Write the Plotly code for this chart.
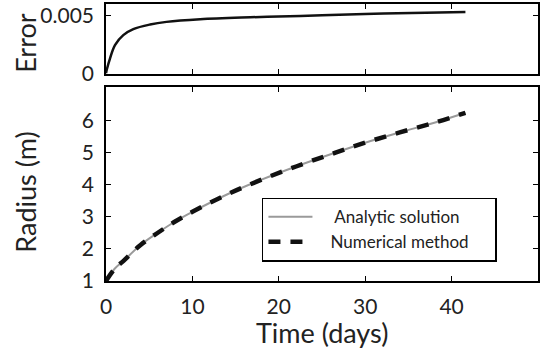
import plotly.graph_objects as go

# ---- data ----
err_t = [0.0, 0.08, 0.46, 1.04, 2.0, 3.16, 5.1, 7.0, 10.9, 16.7, 22.5, 27.0, 32.1, 37.0, 41.6]
err_v = [0.0, 0.0003, 0.0013, 0.00247, 0.00333, 0.00385, 0.00425, 0.00448, 0.00471,
         0.00488, 0.00500, 0.00510, 0.00520, 0.00527, 0.00534]

rad_t = [0, 1, 2, 4, 6, 8, 10, 14, 18, 22, 26, 30, 34, 38, 41.6]
rad_analytic = [1.0, 1.38, 1.62, 2.12, 2.50, 2.85, 3.15, 3.69, 4.15, 4.56, 4.94, 5.30, 5.62, 5.92, 6.23]
rad_numeric = [1.0, 1.38, 1.62, 2.12, 2.50, 2.85, 3.15, 3.69, 4.15, 4.56, 4.94, 5.30, 5.62, 5.92, 6.23]

x_ticks = [0, 10, 20, 30, 40]
err_ticks = [0, 0.005]
err_tick_text = ["0", "0.005"]
rad_ticks = [1, 2, 3, 4, 5, 6]

legend_names = ["Analytic solution", "Numerical method"]

FONT = "Lato"
NB = "\u00a0"

fig = go.Figure()
fig.add_trace(go.Scatter(x=err_t, y=err_v, mode="lines", line=dict(color="#111111", width=2.5, shape="spline"),
                         showlegend=False, xaxis="x", yaxis="y"))
fig.add_trace(go.Scatter(x=rad_t, y=rad_analytic, mode="lines", name=NB * 4 + legend_names[0] + NB * 5,
                         line=dict(color="#9a9a9a", width=2, shape="spline"), xaxis="x2", yaxis="y2"))
fig.add_trace(go.Scatter(x=rad_t, y=rad_numeric, mode="lines", name=NB * 3 + legend_names[1] + NB * 5,
                         line=dict(color="#111111", width=4.5, dash="12px,10px", shape="spline"),
                         xaxis="x2", yaxis="y2"))

axis_common = dict(showline=True, linecolor="black", linewidth=1.5, mirror="ticks", ticks="inside",
                   ticklen=5, tickwidth=1.2, tickcolor="black", showgrid=False, zeroline=False,
                   tickfont=dict(family=FONT, size=21, color="#222222"))

fig.update_layout(
    width=552, height=355,
    margin=dict(l=106, r=14, t=2, b=74),
    paper_bgcolor="white", plot_bgcolor="white",
    xaxis=dict(axis_common, domain=[0, 1], range=[0, 50], tickvals=x_ticks, showticklabels=False, anchor="y"),
    yaxis=dict(axis_common, domain=[0.749, 1], range=[0, 0.00603], tickvals=err_ticks, ticktext=err_tick_text,
               anchor="x", ticklabelstandoff=6),
    xaxis2=dict(axis_common, domain=[0, 1], range=[0, 50], tickvals=x_ticks, anchor="y2", ticklabelstandoff=6),
    yaxis2=dict(axis_common, domain=[0, 0.699], range=[1, 7.02], tickvals=rad_ticks, anchor="x2",
                ticklabelstandoff=6),
    legend=dict(x=0.361, y=0.301, xanchor="left", yanchor="top", bgcolor="white", bordercolor="black",
                borderwidth=1.5, font=dict(family=FONT, size=17, color="#222222"), itemwidth=44,
                tracegroupgap=0),
    annotations=[
        dict(text="Error", xref="paper", yref="paper", x=-0.185, y=0.86, textangle=-90, showarrow=False,
             xanchor="center", yanchor="middle", font=dict(family=FONT, size=27, color="#222222")),
        dict(text="Radius (m)", xref="paper", yref="paper", x=-0.185, y=0.319, textangle=-90, showarrow=False,
             xanchor="center", yanchor="middle", font=dict(family=FONT, size=27, color="#222222")),
        dict(text="Time (days)", xref="paper", yref="paper", x=0.5, y=-0.186, showarrow=False,
             xanchor="center", yanchor="middle", font=dict(family=FONT, size=27, color="#222222")),
    ],
)

fig.write_html("out.html")
